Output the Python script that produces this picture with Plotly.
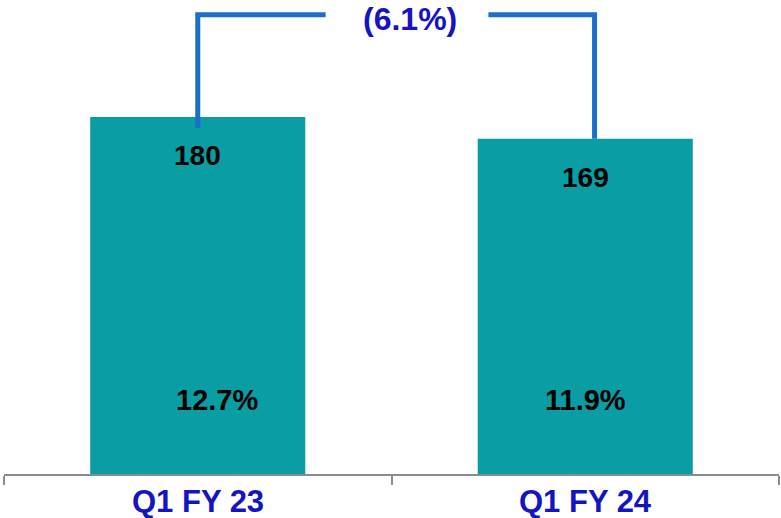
import plotly.graph_objects as go

categories = ["Q1 FY 23", "Q1 FY 24"]
values = [180, 169]
margins = ["12.7%", "11.9%"]
change_label = "(6.1%)"

teal = "#0A9DA4"
blue_txt = "#1414C4"
line_blue = "#1B6FCB"

fig = go.Figure()
fig.add_trace(go.Bar(x=[0, 1], y=values, width=0.555, marker=dict(color=teal, line=dict(width=0)),
                     hoverinfo="skip"))

font_lbl = dict(family="Liberation Sans, Arial", size=28, color="black")
for i, (v, m) in enumerate(zip(values, margins)):
    fig.add_annotation(x=i, y=v, text=f"<b>{v}</b>", showarrow=False, yanchor="top", yshift=-21,
                       font=font_lbl)
    fig.add_annotation(x=i, y=0, text=f"<b>{m}</b>", showarrow=False, yanchor="middle", yshift=74,
                       xshift=19 if i == 0 else 0, font=dict(font_lbl, size=29))

top = 231.5
# connector lines
fig.add_shape(type="path", xref="x", yref="y",
              path=f"M 0,{values[0]*0.97} L 0,{top} L 0.33,{top}",
              line=dict(color=line_blue, width=5))
fig.add_shape(type="path", xref="x", yref="y",
              path=f"M 0.75,{top} L 1.024,{top} L 1.024,{values[1]}",
              line=dict(color=line_blue, width=5))
fig.add_annotation(x=0.5, y=top, text=f"<b>{change_label}</b>", showarrow=False, xshift=18, yshift=-4,
                   font=dict(family="Liberation Sans, Arial", size=32, color=blue_txt))

fig.update_layout(
    width=781, height=518,
    margin=dict(l=4, r=2, t=0, b=44),
    paper_bgcolor="white", plot_bgcolor="white",
    showlegend=False,
    bargap=0.445,
    xaxis=dict(range=[-0.5, 1.5], tickmode="array", tickvals=[-0.5, 0.5, 1.5], ticktext=["", "", ""],
               showline=True, linecolor="#8C8C8C", linewidth=2, ticks="outside", ticklen=9,
               tickcolor="#8C8C8C", tickwidth=2, showgrid=False, zeroline=False, fixedrange=True),
    yaxis=dict(range=[0, 239], visible=False, showgrid=False, zeroline=False),
)
for i, c in enumerate(categories):
    fig.add_annotation(x=i, y=0, text=f"<b>{c}</b>", showarrow=False, yanchor="middle", yshift=-27,
                       font=dict(family="Liberation Sans, Arial", size=31, color=blue_txt))

fig.write_html("out.html")
